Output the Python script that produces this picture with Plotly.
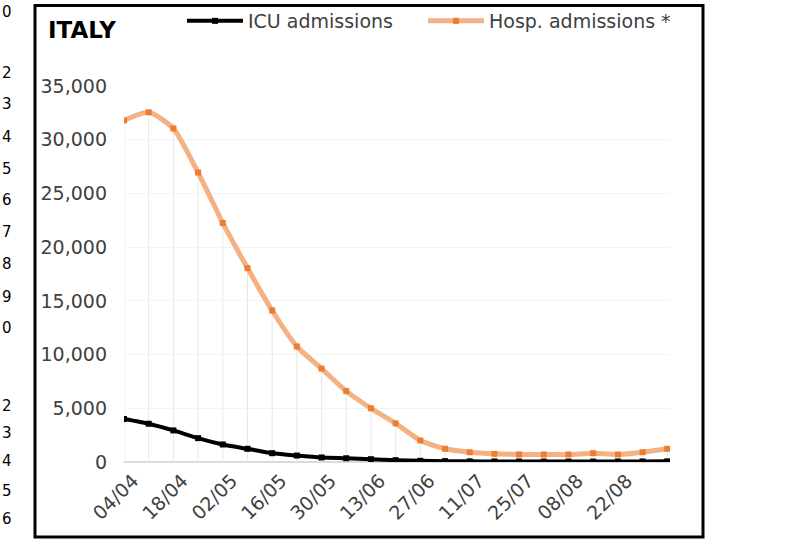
import plotly.graph_objects as go

# ---- data ----
weeks = ["04/04", "11/04", "18/04", "25/04", "02/05", "09/05", "16/05", "23/05",
         "30/05", "06/06", "13/06", "20/06", "27/06", "04/07", "11/07", "18/07",
         "25/07", "01/08", "08/08", "15/08", "22/08", "29/08", "05/09"]
icu_admissions = [4000, 3560, 2940, 2220, 1630, 1230, 820, 600, 420, 350, 260, 170,
                  110, 80, 60, 50, 45, 40, 40, 40, 45, 50, 60]
hosp_admissions = [31800, 32550, 31050, 26950, 22250, 18050, 14100, 10750, 8700,
                   6600, 5000, 3600, 2000, 1230, 910, 760, 700, 700, 700, 820, 700,
                   910, 1230]
tick_labels = ["04/04", "18/04", "02/05", "16/05", "30/05", "13/06", "27/06",
               "11/07", "25/07", "08/08", "22/08"]
y_ticks = [0, 5000, 10000, 15000, 20000, 25000, 30000, 35000]
side_digits = ["0", "2", "3", "4", "5", "6", "7", "8", "9", "0", "2", "3", "4", "5", "6"]

# ---- layout geometry (pixels) ----
W, H = 787, 540
L, R, T, B = 124, 670, 86, 462
def px2x(px):
    return (px - L) / (R - L)
def py2y(py):
    return (B - py) / (B - T)

xi = list(range(len(weeks)))
tick_pos = [weeks.index(t) for t in tick_labels]
FONT = "DejaVu Sans"
TXT = "#404040"

fig = go.Figure()

# drop lines (from highest series down to axis)
fig.add_trace(go.Scatter(
    x=xi, y=hosp_admissions, mode="markers",
    marker=dict(color="rgba(0,0,0,0)", size=1),
    error_y=dict(type="data", symmetric=False, array=[0] * len(xi),
                 arrayminus=hosp_admissions, color="#e8e8e8", thickness=1, width=0),
    showlegend=False, hoverinfo="skip"))

fig.add_trace(go.Scatter(
    x=xi, y=icu_admissions, name="ICU admissions", mode="lines+markers",
    line=dict(color="#000000", width=4, shape="spline", smoothing=0.6),
    marker=dict(symbol="square", size=6, color="#000000"), legend="legend"))

fig.add_trace(go.Scatter(
    x=xi, y=hosp_admissions, name="Hosp. admissions *", mode="lines+markers",
    line=dict(color="#f4b183", width=5, shape="spline", smoothing=0.6),
    marker=dict(symbol="square", size=6, color="#ed7d31"), legend="legend2"))

leg_common = dict(orientation="h", xanchor="left", yanchor="middle",
                  font=dict(family=FONT, size=19, color=TXT),
                  bgcolor="rgba(0,0,0,0)", itemwidth=56)

fig.update_layout(
    width=W, height=H,
    margin=dict(l=L, r=W - R, t=T, b=H - B, pad=0, autoexpand=False),
    paper_bgcolor="white", plot_bgcolor="white",
    font=dict(family=FONT, size=19, color=TXT),
    showlegend=True,
    legend=dict(x=px2x(182), y=py2y(21), **leg_common),
    legend2=dict(x=px2x(423), y=py2y(21), **leg_common),
    xaxis=dict(range=[0, 22.11], tickmode="array", tickvals=tick_pos,
               ticktext=tick_labels, tickangle=-45, showgrid=False,
               zeroline=False, showline=False, ticks="",
               tickfont=dict(family=FONT, size=19, color=TXT),
               ticklabelstandoff=3, ticklabelshift=9, automargin=False),
    yaxis=dict(range=[0, 35000], tickmode="array", tickvals=y_ticks,
               tickformat=",", showgrid=True, gridcolor="#f4f4f4", gridwidth=1,
               zeroline=True, zerolinecolor="#d6dce5", zerolinewidth=2,
               showline=False, ticks="",
               tickfont=dict(family=FONT, size=19, color=TXT),
               ticklabelstandoff=16, automargin=False),
)

# outer frame
fig.add_shape(type="rect", xref="paper", yref="paper",
              x0=px2x(35), x1=px2x(703), y0=py2y(537), y1=py2y(5.5),
              line=dict(color="#000000", width=3), fillcolor="rgba(0,0,0,0)")

# title
fig.add_annotation(text="<b>ITALY</b>", xref="paper", yref="paper",
                   x=px2x(46), y=py2y(30), xanchor="left", yanchor="middle",
                   showarrow=False, font=dict(family=FONT, size=23, color="#000000"))

# digits from neighbouring content on the left edge
side_y = [12, 73, 104, 137, 169, 200, 232, 264, 297, 328, 406, 433, 461, 491, 519]
for d, py in zip(side_digits, side_y):
    fig.add_annotation(text=d, xref="paper", yref="paper", x=px2x(0), y=py2y(py),
                       xanchor="left", yanchor="middle", showarrow=False,
                       font=dict(family=FONT, size=15, color="#000000"))

fig.write_html("out.html", config={"displayModeBar": False},
               post_script="document.body.style.margin='0px';document.body.style.overflow='hidden';")
